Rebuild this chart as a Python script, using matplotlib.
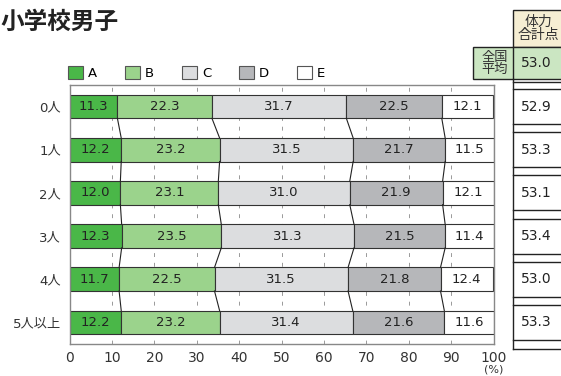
import numpy as np
import matplotlib
matplotlib.use("Agg")
import matplotlib.pyplot as plt
from matplotlib.patches import Patch, Rectangle

plt.rcParams["font.family"] = ["DejaVu Sans", "Noto Sans CJK JP"]

# --- data ---
categories = ["0人", "1人", "2人", "3人", "4人", "5人以上"]
grade_labels = ["A", "B", "C", "D", "E"]
grade_a = [11.3, 12.2, 12.0, 12.3, 11.7, 12.2]
grade_b = [22.3, 23.2, 23.1, 23.5, 22.5, 23.2]
grade_c = [31.7, 31.5, 31.0, 31.3, 31.5, 31.4]
grade_d = [22.5, 21.7, 21.9, 21.5, 21.8, 21.6]
grade_e = [12.1, 11.5, 12.1, 11.4, 12.4, 11.6]
total_scores = [52.9, 53.3, 53.1, 53.4, 53.0, 53.3]
national_avg = 53.0

series = [grade_a, grade_b, grade_c, grade_d, grade_e]
colors = ["#4ab748", "#9bd38c", "#dcdddf", "#b6b7ba", "#ffffff"]

W, H = 561, 376
fig = plt.figure(figsize=(W / 100, H / 100), dpi=100)
ax = fig.add_axes([69.5 / W, 1 - 344 / H, 424 / W, 259 / H])

n = len(categories)
y = np.arange(n)
bar_h = 0.545
left = np.zeros(n)
bounds = []
for vals, color in zip(series, colors):
    vals = np.array(vals)
    ax.barh(y, vals, left=left, height=bar_h, color=color,
            edgecolor="#333333", linewidth=0.8, zorder=2)
    for yi, l, v in zip(y, left, vals):
        ax.text(l + v / 2, yi, f"{v:.1f}", ha="center", va="center",
                fontsize=9.5, color="#222222", zorder=4)
    left = left + vals
    bounds.append(left.copy())

# connector lines between consecutive bars
for b in bounds[:-1]:
    for i in range(n - 1):
        ax.plot([b[i], b[i + 1]], [i + bar_h / 2, i + 1 - bar_h / 2],
                color="#222222", lw=0.8, zorder=3)

ax.set_xlim(0, 100)
ax.set_ylim(n - 0.5, -0.5)
ax.set_xticks(np.arange(0, 101, 10))
ax.set_yticks(y)
ax.set_yticklabels(categories, fontsize=9.5, color="#333333")
ax.tick_params(axis="x", length=0, pad=5, labelsize=10, labelcolor="#333333")
ax.tick_params(axis="y", length=0, pad=6)
ax.xaxis.grid(True, linestyle=(0, (4, 6)), color="#999999", lw=0.7)
ax.set_axisbelow(True)
for sp in ax.spines.values():
    sp.set_color("#888888")
    sp.set_linewidth(1.0)

ax.text(100, n - 0.5 + 26 / 43.17, "(%)", ha="center", va="center",
        fontsize=8, color="#333333", clip_on=False)

# legend
handles = [Patch(facecolor=c, edgecolor="#555555", lw=0.8, label=l)
           for c, l in zip(colors, grade_labels)]
ax.legend(handles=handles, loc="lower left", bbox_to_anchor=(-0.003, 1.02),
          ncol=5, frameon=False, fontsize=9.5, handlelength=1.14,
          handleheight=1.2, handletextpad=0.38, columnspacing=2.1,
          borderpad=0, borderaxespad=0)

# title
fig.text(0.0, 1 - 21.5 / H, "小学校男子", fontsize=17, fontweight="bold",
         family=["Noto Sans CJK JP"], ha="left", va="center", color="#222222")

# right-hand table (total fitness score)
col_x = 104.7
far_x = 130
lk = dict(color="#222222", lw=1.0, clip_on=False)
ax.add_patch(Rectangle((col_x, -2.237), far_x - col_x, 0.864, fc="#f6eed3",
                       ec="#222222", lw=1.0, clip_on=False))
ax.add_patch(Rectangle((95.2, -1.373), far_x - 95.2, 0.734, fc="#cbe6c2",
                       ec="#222222", lw=1.0, clip_on=False))
ax.plot([col_x, col_x], [-1.373, -0.639], **lk)
ax.plot([col_x, col_x], [-0.639, n - 0.5 + 5 / 43.17], **lk)
ax.plot([col_x, far_x], [-0.558, -0.558], **lk)
ax.plot([col_x, far_x], [n - 0.5 + 5 / 43.17] * 2, **lk)
for i, s in enumerate(total_scores):
    ax.plot([col_x, far_x], [i - 0.405, i - 0.405], **lk)
    ax.plot([col_x, far_x], [i + 0.405, i + 0.405], **lk)
    ax.text(106.5, i, f"{s:.1f}", ha="left", va="center", fontsize=10,
            color="#222222", clip_on=False)

ax.text(110.5, -1.805, "体力\n合計点", ha="center", va="center", fontsize=10,
        linespacing=0.95, family=["Noto Sans CJK JP"], color="#333333")
ax.text(100.3, -1.0, "全国\n平均", ha="center", va="center", fontsize=9.5,
        linespacing=0.95, family=["Noto Sans CJK JP"], color="#333333")
ax.text(106.5, -1.0, f"{national_avg:.1f}", ha="left", va="center",
        fontsize=10, color="#222222")

fig.savefig("out.png", dpi=100)
